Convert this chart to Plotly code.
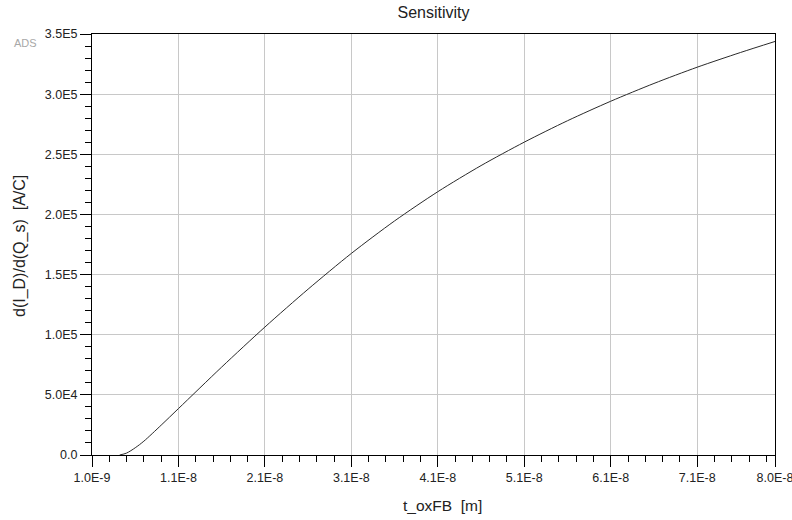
import plotly.graph_objects as go

# Sensitivity curve samples: oxide thickness (m) vs d(I_D)/d(Q_s) (A/C)
t_ox = [4.2e-9, 5.0e-9, 6.0e-9, 7.0e-9, 9.0e-9, 1.1e-8, 1.6e-8, 2.1e-8, 2.6e-8,
        3.1e-8, 3.6e-8, 4.1e-8, 4.6e-8, 5.1e-8, 5.6e-8, 6.1e-8, 6.6e-8, 7.1e-8,
        7.6e-8, 8.0e-8]
sens = [0.0, 1.6e3, 6.0e3, 11.5e3, 24.8e3, 38.6e3, 73.1e3, 106.4e3, 137.9e3,
        167.6e3, 194.6e3, 218.9e3, 240.6e3, 260.1e3, 277.9e3, 294.1e3, 308.9e3, 322.4e3,
        334.6e3, 343.8e3]

x_tickvals = [1.0e-9, 1.1e-8, 2.1e-8, 3.1e-8, 4.1e-8, 5.1e-8, 6.1e-8, 7.1e-8, 8.0e-8]
x_ticktext = ["1.0E-9", "1.1E-8", "2.1E-8", "3.1E-8", "4.1E-8", "5.1E-8", "6.1E-8", "7.1E-8", "8.0E-8"]
y_tickvals = [0, 5e4, 1e5, 1.5e5, 2e5, 2.5e5, 3e5, 3.5e5]
y_ticktext = ["0.0", "5.0E4", "1.0E5", "1.5E5", "2.0E5", "2.5E5", "3.0E5", "3.5E5"]

FONT = "Liberation Sans, Arial, sans-serif"
GRID = "#c8c8c8"
TXT = "#222222"

# plot area in pixels (left, right, top, bottom)
L, R, T, B = 92, 775, 34, 455
W, H = R - L, B - T

fig = go.Figure()
fig.add_trace(go.Scatter(
    x=t_ox, y=sens, mode="lines",
    line=dict(color="#2a2a2a", width=1, shape="spline", smoothing=0.8),
    hoverinfo="skip", showlegend=False,
))

axis_common = dict(
    showgrid=True, gridcolor=GRID, gridwidth=1, zeroline=False,
    showline=True, linecolor="black", linewidth=1, mirror=True,
    ticks="outside", ticklen=11, tickcolor="black", tickwidth=1,
    tickfont=dict(family=FONT, size=12.5, color=TXT),
    tickmode="array", automargin=False,
)

fig.update_layout(
    width=792, height=520,
    margin=dict(l=L, r=792 - R, t=T, b=520 - B, autoexpand=False),
    paper_bgcolor="white", plot_bgcolor="white",
    font=dict(family=FONT, color=TXT, size=12),
    title=dict(text="Sensitivity", x=(L + R) / 2 / 792, xanchor="center",
               y=1 - 12 / 520, yanchor="middle",
               font=dict(family=FONT, size=16, color=TXT)),
    xaxis=dict(
        axis_common, range=[1.0e-9, 8.0e-8], tickvals=x_tickvals, ticktext=x_ticktext,
        ticklabeloverflow="allow",
        minor=dict(tickmode="linear", tick0=1.0e-9, dtick=2e-9, ticks="outside",
                   ticklen=6, tickcolor="black", tickwidth=1, showgrid=False),
    ),
    yaxis=dict(
        axis_common, range=[0, 3.5e5], tickvals=y_tickvals, ticktext=y_ticktext,
        minor=dict(tickmode="linear", tick0=0, dtick=1e4, ticks="outside",
                   ticklen=6, tickcolor="black", tickwidth=1, showgrid=False),
    ),
    annotations=[
        dict(text="ADS", xref="paper", yref="paper",
             x=-80 / W, y=(B - 43) / H, xanchor="left", yanchor="middle",
             showarrow=False, font=dict(family=FONT, size=11, color="#a8a8a8")),
        dict(text="t_oxFB&nbsp;&nbsp;[m]", xref="paper", yref="paper",
             x=(442.5 - L) / W, y=(B - 505) / H, xanchor="center", yanchor="middle",
             showarrow=False, font=dict(family=FONT, size=15.5, color=TXT)),
        dict(text="d(I_D)/d(Q_s)&nbsp;&nbsp;[A/C]", xref="paper", yref="paper",
             x=(20 - L) / W, y=(B - 246) / H, xanchor="center", yanchor="middle",
             textangle=-90, showarrow=False,
             font=dict(family=FONT, size=16, color=TXT)),
    ],
)

fig.write_html("out.html")
